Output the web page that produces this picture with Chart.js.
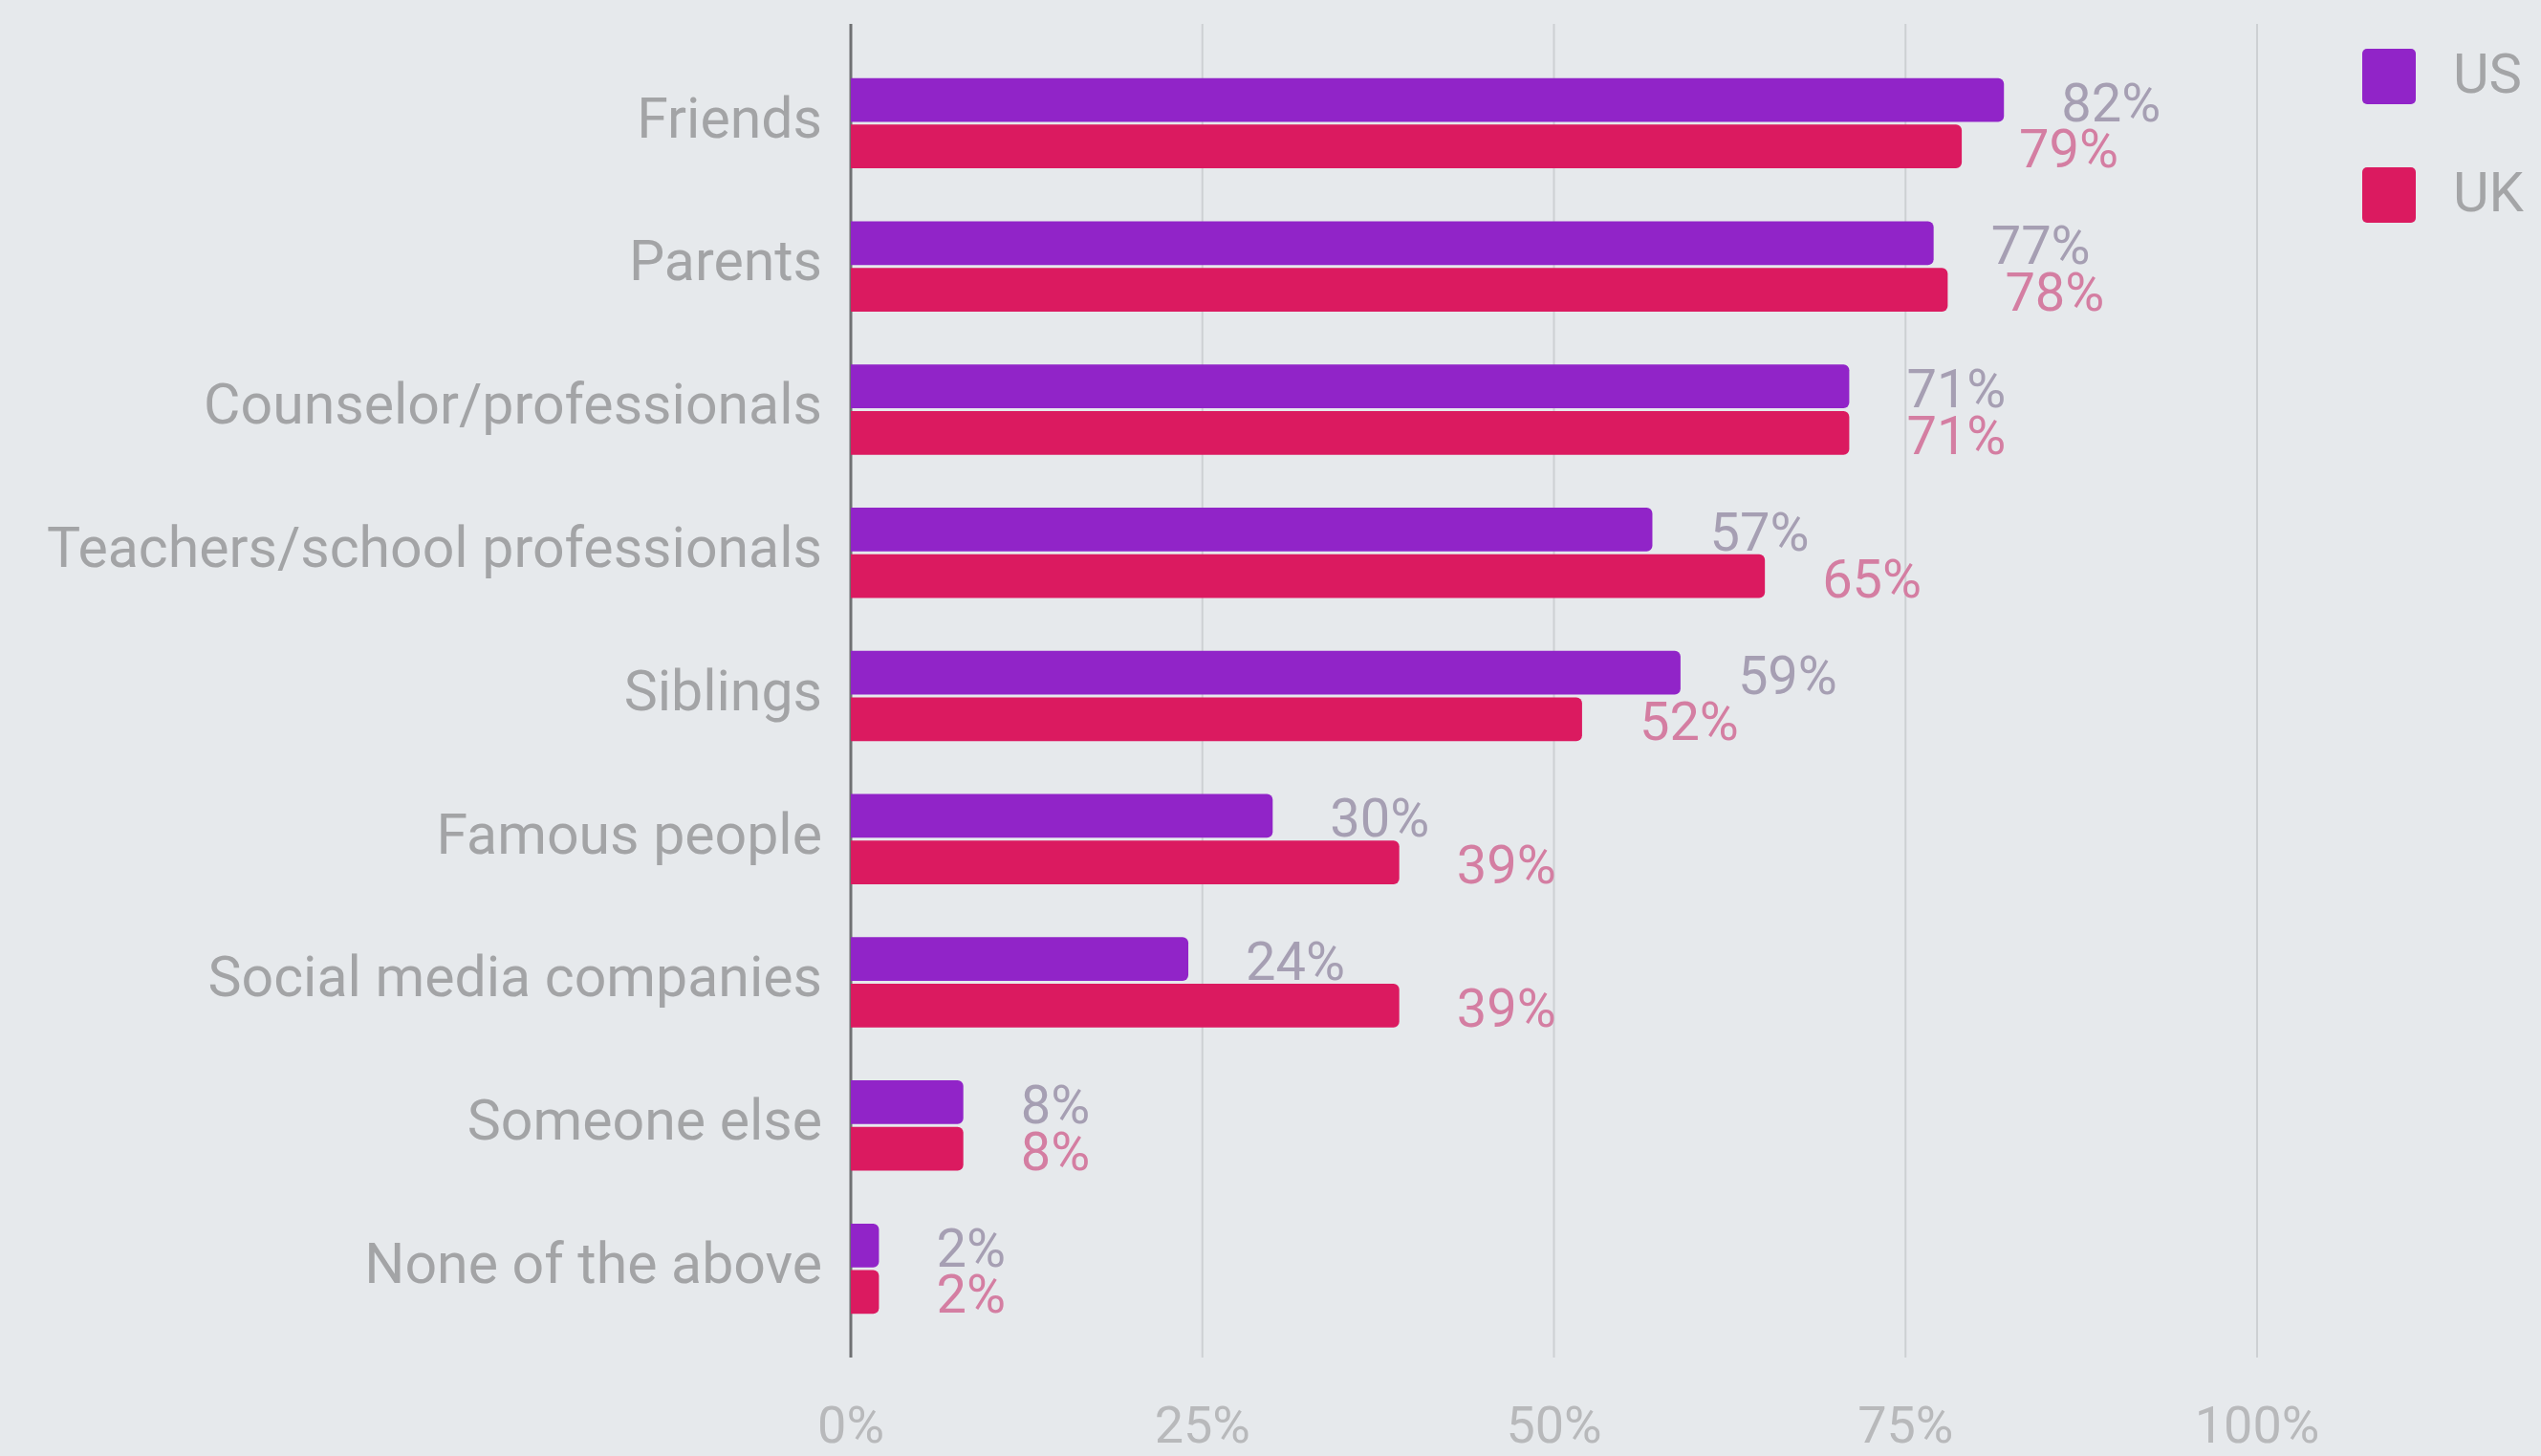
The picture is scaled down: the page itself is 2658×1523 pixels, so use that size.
<!DOCTYPE html>
<html>
<head>
<meta charset="utf-8">
<script src="https://cdn.jsdelivr.net/npm/chart.js@4.4.1/dist/chart.umd.min.js"></script>
<style>
  html, body { margin: 0; padding: 0; background: #e6e9ec; overflow: hidden; }
  #wrap { width: 2658px; height: 1523px; }
</style>
</head>
<body>
<div id="wrap"><canvas id="myChart" width="2658" height="1523"></canvas></div>
<script>
const categories = ['Friends', 'Parents', 'Counselor/professionals', 'Teachers/school professionals',
                    'Siblings', 'Famous people', 'Social media companies', 'Someone else', 'None of the above'];
const usValues = [82, 77, 71, 57, 59, 30, 24, 8, 2];
const ukValues = [79, 78, 71, 65, 52, 39, 39, 8, 2];
const seriesNames = ['US', 'UK'];
const xTicks = [0, 25, 50, 75, 100];

const barColors = ['#9124c8', '#db1a60'];
const valueColors = ['#a69fb3', '#d47ea2'];

// vertical grid lines and the zero axis run a little past the plot area
const longGrid = {
  id: 'longGrid',
  beforeDatasetsDraw(chart) {
    const ctx = chart.ctx;
    const x = chart.scales.x;
    const top = chart.chartArea.top - 29;
    const bottom = chart.chartArea.bottom + 18;
    ctx.save();
    xTicks.forEach(v => {
      const px = x.getPixelForValue(v);
      ctx.beginPath();
      if (v === 0) {
        ctx.strokeStyle = '#6f7072';
        ctx.lineWidth = 3;
      } else {
        ctx.strokeStyle = '#cdd0d3';
        ctx.lineWidth = 2;
      }
      ctx.moveTo(px, top);
      ctx.lineTo(px, bottom);
      ctx.stroke();
    });
    ctx.restore();
  }
};

// percent labels just past the end of each bar
const valueLabels = {
  id: 'valueLabels',
  afterDatasetsDraw(chart) {
    const ctx = chart.ctx;
    ctx.save();
    ctx.font = '56px Roboto';
    ctx.textBaseline = 'middle';
    ctx.textAlign = 'left';
    chart.data.datasets.forEach((ds, i) => {
      const meta = chart.getDatasetMeta(i);
      ctx.fillStyle = valueColors[i];
      meta.data.forEach((bar, j) => {
        ctx.fillText(ds.data[j] + '%', bar.x + 60, bar.y + 8);
      });
    });
    ctx.restore();
  }
};

// legend on the top right, square swatches
const sideLegend = {
  id: 'sideLegend',
  afterDraw(chart) {
    const ctx = chart.ctx;
    ctx.save();
    ctx.font = '58px Roboto';
    ctx.textBaseline = 'middle';
    chart.data.datasets.forEach((ds, i) => {
      const cy = 80 + i * 124;
      ctx.fillStyle = ds.backgroundColor;
      ctx.beginPath();
      ctx.roundRect(2471, cy - 29, 56, 58, 5);
      ctx.fill();
      ctx.fillStyle = '#a4a5a7';
      ctx.fillText(ds.label, 2566, cy + 2);
    });
    ctx.restore();
  }
};

const data = {
  labels: categories,
  datasets: [
    { label: seriesNames[0], data: usValues, backgroundColor: barColors[0] },
    { label: seriesNames[1], data: ukValues, backgroundColor: barColors[1] }
  ]
};

const config = {
  type: 'bar',
  data: data,
  options: {
    indexAxis: 'y',
    responsive: false,
    animation: false,
    layout: { padding: { top: 54, right: 297, bottom: 0, left: 0 } },
    datasets: {
      bar: { categoryPercentage: 0.65, barPercentage: 0.94, borderRadius: 6 }
    },
    plugins: {
      legend: { display: false },
      tooltip: { enabled: false }
    },
    scales: {
      x: {
        min: 0,
        max: 100,
        afterBuildTicks(scale) { scale.ticks = xTicks.map(v => ({ value: v })); },
        afterFit(scale) { scale.height = 121; },
        ticks: {
          callback: v => v + '%',
          font: { family: 'Roboto', size: 54 },
          color: '#b8b9bb',
          padding: 61
        },
        grid: { display: false, drawTicks: false },
        border: { display: false }
      },
      y: {
        afterFit(scale) {
          scale.width = 890;
          scale.paddingTop = 0;
          scale.paddingBottom = 0;
        },
        ticks: {
          font: { family: 'Roboto', size: 59 },
          color: '#a3a4a6',
          padding: 30
        },
        grid: { display: false, drawTicks: false },
        border: { display: false }
      }
    }
  },
  plugins: [longGrid, valueLabels, sideLegend]
};

const myChart = new Chart(document.getElementById('myChart'), config);
</script>
</body>
</html>
